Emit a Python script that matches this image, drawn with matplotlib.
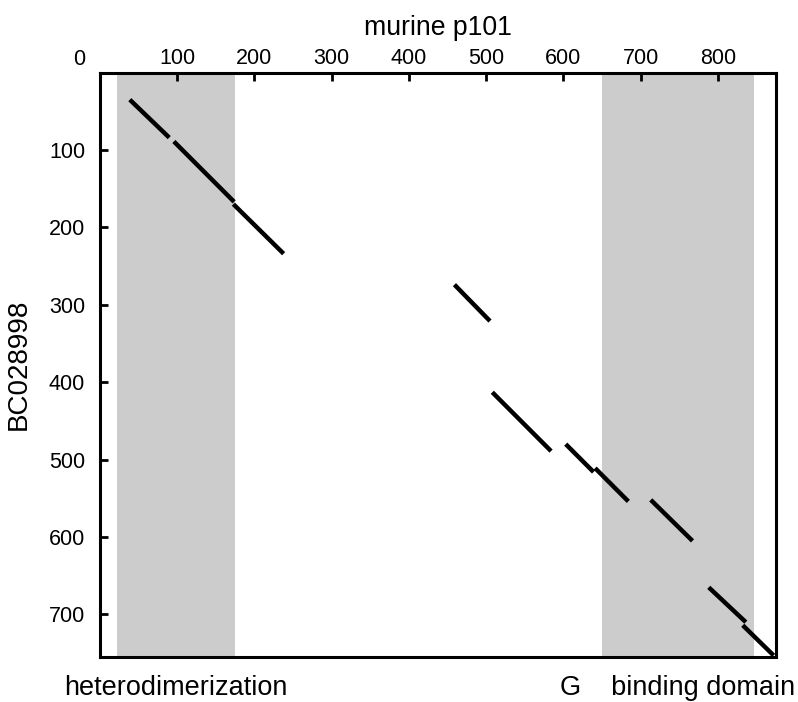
import numpy as np
import matplotlib
matplotlib.use("Agg")
import matplotlib.pyplot as plt

plt.rcParams['font.family'] = ['Liberation Sans', 'DejaVu Sans']

# dot-plot alignment segments (murine p101 position, BC028998 position)
x_start = [39, 96, 173, 459, 508, 603, 641, 713, 788, 832]
x_end = [90, 174, 238, 505, 584, 639, 684, 767, 836, 872]
y_start = [35, 89, 170, 274, 413, 480, 511, 552, 665, 714]
y_end = [84, 167, 234, 321, 489, 516, 554, 605, 710, 753]

# shaded domains along murine p101
domain_start = [22, 650]
domain_end = [175, 846]
domain_names = ["heterodimerization", "G    binding domain"]

x_ticks = [100, 200, 300, 400, 500, 600, 700, 800]
y_ticks = [100, 200, 300, 400, 500, 600, 700]

fig = plt.figure(figsize=(7.98, 7.02), dpi=100)
ax = fig.add_axes([0.1249, 0.0641, 0.8475, 0.8325])

for a, b in zip(domain_start, domain_end):
    ax.axvspan(a, b, color='#cccccc', lw=0, zorder=0)

for xs, xe, ys, ye in zip(x_start, x_end, y_start, y_end):
    ax.plot([xs, xe], [ys, ye], color='black', lw=3.2, solid_capstyle='butt')

ax.set_xlim(0, 875)
ax.set_ylim(755, 0)

ax.xaxis.tick_top()
ax.xaxis.set_label_position('top')
ax.set_xticks(x_ticks)
ax.set_yticks(y_ticks)
ax.tick_params(direction='in', length=6, width=2, labelsize=15.5, color='black')
ax.tick_params(axis='x', pad=2.3)
ax.tick_params(axis='y', pad=10.5)
for s in ax.spines.values():
    s.set_linewidth(2.2)

ax.set_xlabel("murine p101", fontsize=19.2, labelpad=10)
ax.set_ylabel("BC028998", fontsize=20, labelpad=12)

ax.annotate("0", xy=(0, 1), xycoords=('data', 'axes fraction'),
            xytext=(-14.9, 5.5), textcoords='offset points',
            ha='center', va='baseline', fontsize=15.5)

for a, b, name in zip(domain_start, domain_end, domain_names):
    ax.annotate(name, xy=((a + b) / 2, 0), xycoords=('data', 'axes fraction'),
                xytext=(0, -27), textcoords='offset points',
                ha='center', va='baseline', fontsize=19.5)

fig.savefig("out.png", dpi=100)
